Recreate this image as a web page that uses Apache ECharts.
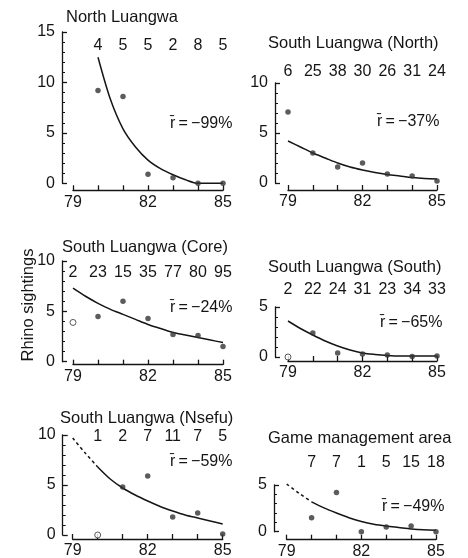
<!DOCTYPE html>
<html>
<head>
<meta charset="utf-8">
<script src="https://cdn.jsdelivr.net/npm/echarts@6/dist/echarts.min.js"></script>
<style>
html,body{margin:0;padding:0;background:#fff;}
#chart{width:468px;height:558px;}
</style>
</head>
<body>
<div id="chart"></div>
<script>
// ---- data ----
const years = [79, 80, 81, 82, 83, 84, 85];
const tickLabelYears = [79, 82, 85];

const titles = ['North Luangwa', 'South Luangwa (North)', 'South Luangwa (Core)',
                'South Luangwa (South)', 'South Luangwa (Nsefu)', 'Game management area'];
const rValues = [-99, -37, -24, -65, -59, -49];
const yMaxes = [15, 10, 10, 5, 10, 5];

// numbers of patrols (shown above each year)
const nlCounts = [null, 4, 5, 5, 2, 8, 5];
const snCounts = [6, 25, 38, 30, 26, 31, 24];
const scCounts = [2, 23, 15, 35, 77, 80, 95];
const ssCounts = [2, 22, 24, 31, 23, 34, 33];
const nsCounts = [null, 1, 2, 7, 11, 7, 5];
const gmCounts = [null, 7, 7, 1, 5, 15, 18];

// rhino sightings per patrol
const nlSightings = [null, 9.2, 8.6, 0.9, 0.55, 0, 0];
const snSightings = [7.1, 3.0, 1.6, 2.0, 0.9, 0.7, 0.2];
const scSightings = [3.9, 4.5, 6.0, 4.3, 2.7, 2.6, 1.5];
const ssSightings = [0, 2.4, 0.4, 0.3, 0.2, 0.05, 0.1];
const nsSightings = [null, 0, 4.8, 5.9, 1.8, 2.2, 0.1];
const gmSightings = [null, 1.5, 4.2, 0, 0.5, 0.6, 0];

// years drawn as open circles
const nlOpen = [];
const snOpen = [];
const scOpen = [79];
const ssOpen = [79];
const nsOpen = [80];
const gmOpen = [];

// fitted curves at half-year steps
const fitYears = [79, 79.5, 80, 80.5, 81, 81.5, 82, 82.5, 83, 83.5, 84, 84.5, 85];
const nlFit = [null, null, 12.5, 8.3, 5.4, 3.6, 2.3, 1.45, 0.85, 0.35, 0, 0, 0];
const snFit = [4.2, 3.6, 3.0, 2.5, 2.0, 1.6, 1.3, 1.05, 0.85, 0.7, 0.55, 0.45, 0.4];
const scFit = [7.3, 6.5, 5.8, 5.2, 4.7, 4.2, 3.7, 3.3, 2.9, 2.65, 2.4, 2.15, 1.9];
const ssFit = [3.6, 2.85, 2.2, 1.6, 1.1, 0.7, 0.4, 0.25, 0.15, 0.1, 0.1, 0.1, 0.1];
const nsFit = [9.7, 8.2, 6.8, 5.6, 4.7, 4.0, 3.4, 2.85, 2.4, 2.0, 1.7, 1.4, 1.1];
const gmFit = [5.1, 4.1, 3.2, 2.55, 2.0, 1.5, 1.1, 0.8, 0.6, 0.45, 0.3, 0.2, 0.15];
// the fitted segment up to this year is an extrapolation (dashed)
const nlDashedUntil = null, snDashedUntil = null, scDashedUntil = null,
      ssDashedUntil = null, nsDashedUntil = 80, gmDashedUntil = 80;

// ---- layout ----
const FONT = '"Liberation Sans", Arial, Helvetica, sans-serif';
const INK = '#151515';
const layout = [
  {left: 73,    top: 32,  width: 150,   height: 151.3, yAxisX: 62,   xOff: 7, countDy: 14,    tx: 66,  ty: 17,  rx: 170, ry: 124},
  {left: 288,   top: 83,  width: 149,   height: 100,   yAxisX: 275,  xOff: 7, countDy: -11,   tx: 268, ty: 43,  rx: 377, ry: 122},
  {left: 73,    top: 261, width: 150,   height: 100.7, yAxisX: 62,   xOff: 3, countDy: 11.7,  tx: 62,  ty: 247, rx: 170, ry: 308},
  {left: 288,   top: 307, width: 149,   height: 50,    yAxisX: 275,  xOff: 4, countDy: -17,   tx: 268, ty: 267, rx: 380, ry: 323},
  {left: 72.7,  top: 435, width: 150,   height: 100,   yAxisX: 62.7, xOff: 4, countDy: 1.7,   tx: 60,  ty: 418, rx: 170, ry: 462},
  {left: 286.7, top: 485, width: 149.3, height: 46.7,  yAxisX: 274,  xOff: 8, countDy: -22.3, tx: 268, ty: 438, rx: 382, ry: 507}
];

const panelData = [
  {counts: nlCounts, sight: nlSightings, open: nlOpen, fit: nlFit, dashedUntil: nlDashedUntil},
  {counts: snCounts, sight: snSightings, open: snOpen, fit: snFit, dashedUntil: snDashedUntil},
  {counts: scCounts, sight: scSightings, open: scOpen, fit: scFit, dashedUntil: scDashedUntil},
  {counts: ssCounts, sight: ssSightings, open: ssOpen, fit: ssFit, dashedUntil: ssDashedUntil},
  {counts: nsCounts, sight: nsSightings, open: nsOpen, fit: nsFit, dashedUntil: nsDashedUntil},
  {counts: gmCounts, sight: gmSightings, open: gmOpen, fit: gmFit, dashedUntil: gmDashedUntil}
];

const grids = [], xAxes = [], yAxes = [], series = [], graphics = [];

panelData.forEach((p, i) => {
  const L = layout[i];
  const yMax = yMaxes[i];
  grids.push({left: L.left, top: L.top, width: L.width, height: L.height,
              containLabel: false, outerBoundsMode: 'none'});
  xAxes.push({
    gridIndex: i, type: 'value', min: 79, max: 85, interval: 1, offset: L.xOff,
    axisLine: {show: true, onZero: false, lineStyle: {color: INK, width: 1.3}},
    axisTick: {show: true, inside: true, length: 5, lineStyle: {color: INK, width: 1.3}},
    axisLabel: {color: INK, fontFamily: FONT, fontSize: 16, margin: 4,
                formatter: v => tickLabelYears.indexOf(v) >= 0 ? String(v) : ''},
    splitLine: {show: false}
  });
  yAxes.push({
    gridIndex: i, type: 'value', min: 0, max: yMax, interval: 5, offset: L.left - L.yAxisX,
    axisLine: {show: true, onZero: false, lineStyle: {color: INK, width: 1.3}},
    axisTick: {show: true, inside: true, length: 5, lineStyle: {color: INK, width: 1.3}},
    minorTick: {show: true, splitNumber: 5, length: 3, lineStyle: {color: INK, width: 1}},
    axisLabel: {color: INK, fontFamily: FONT, fontSize: 16, margin: 7},
    splitLine: {show: false}
  });

  // fitted curve
  const fitPts = [];
  fitYears.forEach((yr, k) => { if (p.fit[k] != null) fitPts.push([yr, p.fit[k]]); });
  let solidPts = fitPts, dashPts = null;
  if (p.dashedUntil != null) {
    dashPts = fitPts.filter(d => d[0] <= p.dashedUntil);
    solidPts = fitPts.filter(d => d[0] >= p.dashedUntil);
  }
  series.push({
    type: 'line', xAxisIndex: i, yAxisIndex: i, data: solidPts, symbol: 'none',
    smooth: 0.3, clip: false,
    lineStyle: {color: INK, width: 1.5}, z: 2
  });
  if (dashPts) {
    series.push({
      type: 'line', xAxisIndex: i, yAxisIndex: i, data: dashPts, symbol: 'none',
      smooth: 0.3, clip: false,
      lineStyle: {color: INK, width: 1.5, type: [3, 3]}, z: 2
    });
  }

  // sightings
  const filled = [], hollow = [];
  years.forEach((yr, k) => {
    if (p.sight[k] == null) return;
    (p.open.indexOf(yr) >= 0 ? hollow : filled).push([yr, p.sight[k]]);
  });
  series.push({
    type: 'scatter', xAxisIndex: i, yAxisIndex: i, data: filled, symbolSize: 5.5,
    clip: false, itemStyle: {color: '#333'}, z: 3
  });
  if (hollow.length) {
    series.push({
      type: 'scatter', xAxisIndex: i, yAxisIndex: i, data: hollow, symbolSize: 6,
      clip: false, itemStyle: {color: '#fff', borderColor: '#333', borderWidth: 1}, z: 3
    });
  }

  // counts above each year
  const countPts = [];
  years.forEach((yr, k) => { if (p.counts[k] != null) countPts.push([yr, yMax, p.counts[k]]); });
  series.push({
    type: 'scatter', xAxisIndex: i, yAxisIndex: i, data: countPts, symbolSize: 0,
    clip: false, itemStyle: {color: INK, opacity: 1}, z: 4, silent: true,
    label: {show: true, position: 'inside', offset: [0, L.countDy],
            formatter: d => String(d.value[2]), color: INK, fontFamily: FONT, fontSize: 16,
            textBorderWidth: 0, opacity: 1,
            align: 'center', verticalAlign: 'middle'}
  });

  // title
  graphics.push({type: 'text', x: L.tx, y: L.ty, silent: true,
    style: {text: titles[i], fill: INK, font: '16.5px ' + FONT, align: 'left', verticalAlign: 'middle'}});
  // correlation
  graphics.push({type: 'text', x: L.rx, y: L.ry, silent: true,
    style: {text: 'r\u0304\u2009=\u2009\u2212' + Math.abs(rValues[i]) + '%', fill: INK,
            font: '16px ' + FONT, align: 'left', verticalAlign: 'middle'}});
});

graphics.push({type: 'text', x: 28, y: 305, rotation: Math.PI / 2, silent: true,
  style: {text: 'Rhino sightings', fill: INK, font: '16.5px ' + FONT, align: 'center', verticalAlign: 'middle'}});

const chart = echarts.init(document.getElementById('chart'), null, {renderer: 'canvas'});
chart.setOption({
  animation: false,
  backgroundColor: '#fff',
  grid: grids,
  xAxis: xAxes,
  yAxis: yAxes,
  series: series,
  graphic: graphics
});
</script>
</body>
</html>
